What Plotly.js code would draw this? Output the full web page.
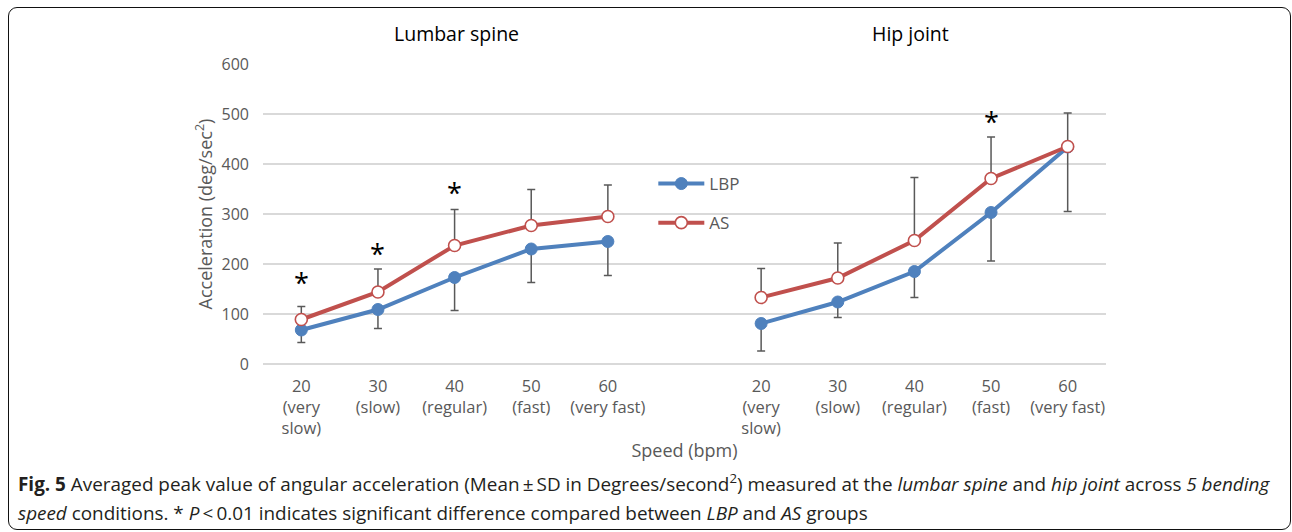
<!DOCTYPE html>
<html>
<head>
<meta charset="utf-8">
<script src="https://cdn.plot.ly/plotly-3.0.1.min.js"></script>
<style>
  html, body { margin: 0; padding: 0; background: #fff; }
  #wrap { position: relative; width: 1292px; height: 532px; overflow: hidden; }
  #chart { position: absolute; left: 0; top: 0; width: 1292px; height: 532px; }
  #frame { position: absolute; left: 8px; top: 7px; width: 1283px; height: 523px;
           border: 1.6px solid #111; border-radius: 9px; box-sizing: border-box; pointer-events: none; }
</style>
</head>
<body>
<div id="wrap"><div id="chart"></div><div id="frame"></div></div>
<script>
// ---- data ----
const categories = ['20<br>(very<br>slow)', '30<br>(slow)', '40<br>(regular)', '50<br>(fast)', '60<br>(very fast)'];
const panels = ['Lumbar spine', 'Hip joint'];
const seriesNames = ['LBP', 'AS'];

const lumbarLBP = [68, 109, 173, 230, 245];
const lumbarAS  = [89, 144, 237, 277, 295];
const lumbarLBPsd = [25, 38, 66, 67, 68];   // drawn downward
const lumbarASsd  = [26, 46, 72, 72, 63];   // drawn upward

const hipLBP = [81, 124, 185, 303, 434];
const hipAS  = [133, 172, 247, 371, 435];
const hipLBPsd = [55, 31, 52, 97, 129];
const hipASsd  = [58, 70, 126, 83, 67];

// significance asterisks (y position of the mark)
const lumbarStarY = [169, 228, 349, null, null];
const hipStarY    = [null, null, null, 491, null];

const caption1 = '<b>Fig. 5</b> Averaged peak value of angular acceleration (Mean\u2009\u00b1\u2009SD in Degrees/second<sup>2</sup>) measured at the <i>lumbar spine</i> and <i>hip joint</i> across <i>5 bending</i>';
const caption2 = '<i>speed</i> conditions. * <i>P</i>\u2009<\u20090.01 indicates significant difference compared between <i>LBP</i> and <i>AS</i> groups';

// ---- build positions: two panels on one category axis with an empty slot between ----
const n = categories.length;
const xs = [];
for (let i = 0; i < n; i++) xs.push(i);
xs.push(n);                       // empty gap slot
for (let i = 0; i < n; i++) xs.push(n + 1 + i);
const join = (a, b, gap) => a.concat([gap], b);
const zeros = new Array(2 * n + 1).fill(0);

const blue = '#4f81bd', red = '#c0504d', grey = '#595959';
const FONT = 'Open Sans, Noto Sans, sans-serif';

const traces = [
  {
    x: xs, y: join(lumbarLBP, hipLBP, null), name: seriesNames[0], legendgroup: 'a',
    type: 'scatter', mode: 'lines+markers', connectgaps: false,
    line: { color: blue, width: 4 },
    marker: { color: blue, size: 12, line: { color: blue, width: 1 } },
    error_y: { type: 'data', symmetric: false, array: zeros, arrayminus: join(lumbarLBPsd, hipLBPsd, 0),
               color: grey, thickness: 1.5, width: 4 }
  },
  {
    x: xs, y: join(lumbarAS, hipAS, null), name: seriesNames[1], legendgroup: 'b',
    type: 'scatter', mode: 'lines+markers', connectgaps: false,
    line: { color: red, width: 4 },
    marker: { color: '#ffffff', size: 12, line: { color: red, width: 1.6 } },
    error_y: { type: 'data', symmetric: false, array: join(lumbarASsd, hipASsd, 0), arrayminus: zeros,
               color: grey, thickness: 1.5, width: 4 }
  }
];

const tickvals = [], ticktext = [];
xs.forEach((v, i) => { if (i !== n) { tickvals.push(v); ticktext.push(categories[i < n ? i : i - n - 1]); } });

const annotations = [];
// panel titles, centred on the middle category of each panel
const titleShift = [2, -4];
panels.forEach((p, k) => {
  annotations.push({ text: p, xref: 'x', yref: 'paper', x: k * (n + 1) + (n - 1) / 2, y: 1.103, xshift: titleShift[k],
    showarrow: false, xanchor: 'center', yanchor: 'middle', font: { family: FONT, size: 19.5, color: '#000' } });
});
// asterisks
join(lumbarStarY, hipStarY, null).forEach((yv, i) => {
  if (yv !== null) annotations.push({ text: '*', xref: 'x', yref: 'y', x: xs[i], y: yv, yshift: -3,
    showarrow: false, xanchor: 'center', yanchor: 'middle', font: { family: FONT, size: 27, color: '#000' } });
});
// caption
annotations.push({ text: caption1, xref: 'paper', yref: 'paper', x: -0.2925, y: -0.3967, xanchor: 'left', yanchor: 'middle',
  showarrow: false, align: 'left', font: { family: FONT, size: 18.9, color: '#231f20' } });
annotations.push({ text: caption2, xref: 'paper', yref: 'paper', x: -0.2925, y: -0.4967, xanchor: 'left', yanchor: 'middle',
  showarrow: false, align: 'left', font: { family: FONT, size: 18.9, color: '#231f20' } });

const layout = {
  width: 1292, height: 532,
  margin: { l: 263, r: 186, t: 64, b: 168 },
  paper_bgcolor: 'rgba(0,0,0,0)', plot_bgcolor: 'rgba(0,0,0,0)',
  font: { family: FONT, color: grey },
  showlegend: true,
  legend: { x: 0.463, y: 0.66, xanchor: 'left', yanchor: 'top', bgcolor: 'rgba(0,0,0,0)', itemwidth: 46,
            font: { family: FONT, size: 17, color: grey }, traceorder: 'grouped', tracegroupgap: 14 },
  xaxis: {
    range: [-0.5, 2 * n + 0.5], tickmode: 'array', tickvals: tickvals, ticktext: ticktext,
    showgrid: false, zeroline: false, showline: false, ticks: '',
    tickfont: { family: FONT, size: 16.5, color: grey }, ticklabelstandoff: 10,
    title: { text: 'Speed (bpm)', font: { family: FONT, size: 18, color: grey }, standoff: 5 },
    fixedrange: true
  },
  yaxis: {
    range: [0, 600], dtick: 100, tick0: 0, showline: false, ticks: '',
    gridcolor: '#d9d9d9', gridwidth: 1.4, zeroline: true, zerolinecolor: '#d9d9d9', zerolinewidth: 1.4,
    tickfont: { family: FONT, size: 16, color: grey }, ticklabelstandoff: 13,
    title: { text: 'Acceleration (deg/sec<sup>2</sup>)', font: { family: FONT, size: 18, color: grey }, standoff: 4 },
    fixedrange: true
  },
  annotations: annotations
};

Plotly.newPlot('chart', traces, layout, { displayModeBar: false, staticPlot: true });
</script>
</body>
</html>
